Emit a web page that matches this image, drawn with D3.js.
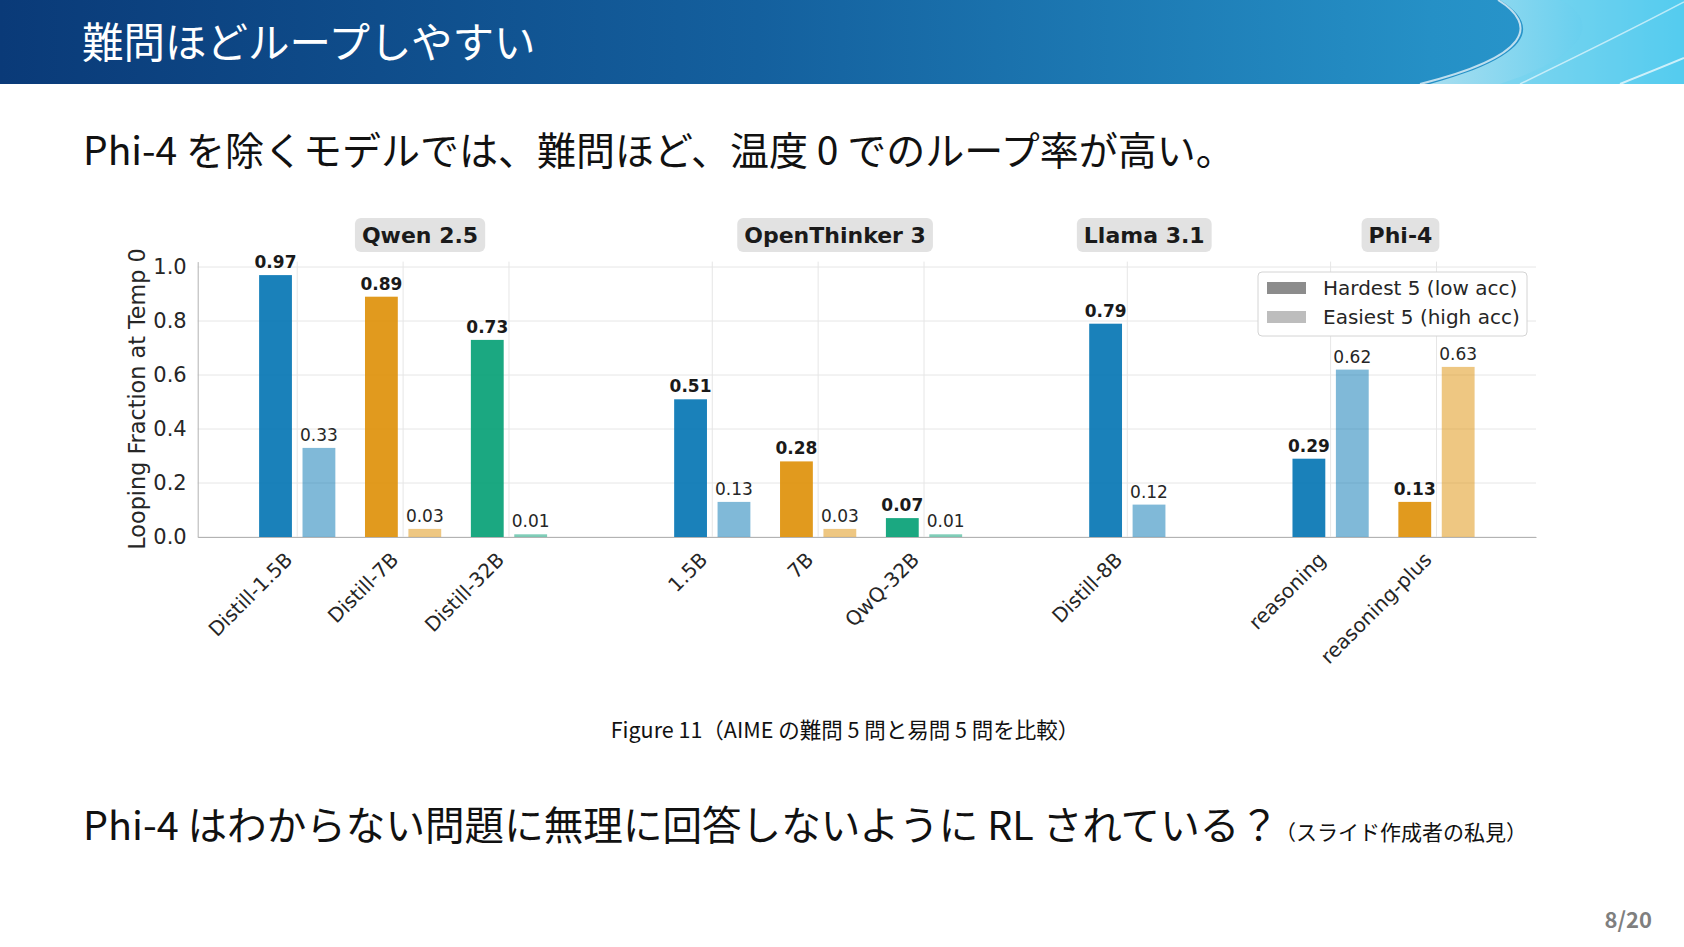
<!DOCTYPE html>
<html>
<head>
<meta charset="utf-8">
<script src="https://cdn.jsdelivr.net/npm/d3@7"></script>
<style>
  html, body { margin: 0; padding: 0; background: #fff; }
  svg { display: block; }
</style>
</head>
<body>
<svg id="slide" width="1684" height="947"></svg>
<script>
// chart data
const groups = ['Qwen 2.5', 'OpenThinker 3', 'Llama 3.1', 'Phi-4']
const models = ['Distill-1.5B', 'Distill-7B', 'Distill-32B', '1.5B', '7B', 'QwQ-32B', 'Distill-8B', 'reasoning', 'reasoning-plus']
const modelGroup = [0, 0, 0, 1, 1, 1, 2, 3, 3]
const modelColor = [0, 1, 2, 0, 1, 2, 0, 0, 1]
const hardest = [0.97, 0.89, 0.73, 0.51, 0.28, 0.07, 0.79, 0.29, 0.13]
const easiest = [0.33, 0.03, 0.01, 0.13, 0.03, 0.01, 0.12, 0.62, 0.63]
const yTicks = [0, 0.2, 0.4, 0.6, 0.8, 1.0]
const legendLabels = ['Hardest 5 (low acc)', 'Easiest 5 (high acc)']

const palette = ['#0173b2', '#de8f05', '#029e73']
const groupGap = 0.92

const svg = d3.select('#slide')
const chartFont = "'DejaVu Sans', sans-serif"
const jpFont = "'Noto Sans CJK JP', 'Noto Sans', sans-serif"

// ---- header band ----
const defs = svg.append('defs')
const hg = defs.append('linearGradient').attr('id', 'hdr').attr('x1', 0).attr('x2', 1).attr('y1', 0).attr('y2', 0)
hg.append('stop').attr('offset', '0%').attr('stop-color', '#0a3a78')
hg.append('stop').attr('offset', '45%').attr('stop-color', '#14609e')
hg.append('stop').attr('offset', '85%').attr('stop-color', '#2590c6')
hg.append('stop').attr('offset', '100%').attr('stop-color', '#2b9bd0')
const lg = defs.append('linearGradient').attr('id', 'swoosh').attr('x1', 0).attr('x2', 1).attr('y1', 0).attr('y2', 0)
lg.append('stop').attr('offset', '0%').attr('stop-color', '#a8def0')
lg.append('stop').attr('offset', '100%').attr('stop-color', '#3ec6ee')

svg.append('rect').attr('x', 0).attr('y', 0).attr('width', 1684).attr('height', 84).attr('fill', 'url(#hdr)')
svg.append('path')
  .attr('d', 'M1500,0 C1540,25 1535,55 1430,84 L1684,84 L1684,0 Z')
  .attr('fill', 'url(#swoosh)')
svg.append('path')
  .attr('d', 'M1560,0 C1600,20 1590,55 1500,84 L1684,84 L1684,0 Z')
  .attr('fill', '#6fd3f0').attr('opacity', 0.45)
svg.append('path')
  .attr('d', 'M1498,0 C1538,25 1532,56 1420,84')
  .attr('fill', 'none').attr('stroke', '#ffffff').attr('stroke-width', 2).attr('opacity', 0.7)
svg.append('path')
  .attr('d', 'M1684,2 C1640,25 1580,55 1520,84')
  .attr('fill', 'none').attr('stroke', '#ffffff').attr('stroke-width', 1.5).attr('opacity', 0.6)
svg.append('path')
  .attr('d', 'M1684,58 C1660,68 1640,76 1620,84')
  .attr('fill', 'none').attr('stroke', '#ffffff').attr('stroke-width', 2).attr('opacity', 0.7)

svg.append('text')
  .attr('x', 82).attr('y', 58)
  .attr('font-family', jpFont).attr('font-size', 41.5).attr('fill', '#ffffff')
  .text('難問ほどループしやすい')

svg.append('text')
  .attr('x', 83).attr('y', 165)
  .attr('font-family', jpFont).attr('font-size', 39).attr('fill', '#111')
  .text('Phi-4 を除くモデルでは、難問ほど、温度 0 でのループ率が高い。')

// ---- chart ----
const pos = models.map((m, i) => i + modelGroup[i] * groupGap)
const x = d3.scaleLinear().domain([-0.94, 11.70]).range([197.7, 1536])
const y = d3.scaleLinear().domain([0, 1.02]).range([537, 261.6])
const barW = x(0.31) - x(0)
const off = 0.205

const g = svg.append('g')

// grid
g.append('g').selectAll('line').data(yTicks).enter().append('line')
  .attr('x1', x.range()[0]).attr('x2', x.range()[1])
  .attr('y1', d => y(d)).attr('y2', d => y(d))
  .attr('stroke', '#e6e6e6').attr('stroke-width', 1)
g.append('g').selectAll('line').data(pos).enter().append('line')
  .attr('x1', d => x(d)).attr('x2', d => x(d))
  .attr('y1', y.range()[0]).attr('y2', y.range()[1])
  .attr('stroke', '#e6e6e6').attr('stroke-width', 1)

// bars
const rows = models.map((m, i) => ({ m, i, p: pos[i], c: palette[modelColor[i]], hard: hardest[i], easy: easiest[i] }))

g.append('g').selectAll('rect').data(rows).enter().append('rect')
  .attr('x', d => x(d.p - off) - barW / 2)
  .attr('y', d => y(d.hard))
  .attr('width', barW)
  .attr('height', d => y(0) - y(d.hard))
  .attr('fill', d => d.c).attr('fill-opacity', 0.9)

g.append('g').selectAll('rect').data(rows).enter().append('rect')
  .attr('x', d => x(d.p + off) - barW / 2)
  .attr('y', d => y(d.easy))
  .attr('width', barW)
  .attr('height', d => y(0) - y(d.easy))
  .attr('fill', d => d.c).attr('fill-opacity', 0.5)

// value labels
g.append('g').selectAll('text').data(rows).enter().append('text')
  .attr('x', d => x(d.p - off)).attr('y', d => y(d.hard) - 7)
  .attr('text-anchor', 'middle')
  .attr('font-family', chartFont).attr('font-size', 17).attr('font-weight', 'bold').attr('fill', '#1a1a1a')
  .text(d => d.hard.toFixed(2))
g.append('g').selectAll('text').data(rows).enter().append('text')
  .attr('x', d => x(d.p + off)).attr('y', d => y(d.easy) - 7)
  .attr('text-anchor', 'middle')
  .attr('font-family', chartFont).attr('font-size', 17).attr('fill', '#262626')
  .text(d => d.easy.toFixed(2))

// axes
const yAxis = g.append('g').attr('transform', `translate(${x.range()[0]},0)`)
  .call(d3.axisLeft(y).tickValues(yTicks).tickFormat(d3.format('.1f')).tickSize(0).tickPadding(11))
yAxis.select('.domain').attr('stroke', '#b3b3b3')
yAxis.selectAll('text').attr('font-family', chartFont).attr('font-size', 21).attr('fill', '#262626')

const xAxis = g.append('g').attr('transform', `translate(0,${y(0)})`)
  .call(d3.axisBottom(x).tickValues(pos).tickFormat((d, i) => models[i]).tickSize(0))
xAxis.select('.domain').attr('stroke', '#b3b3b3')
xAxis.selectAll('text')
  .attr('font-family', chartFont).attr('font-size', 20).attr('fill', '#262626')
  .attr('text-anchor', 'end')
  .attr('dy', null)
  .attr('y', 0)
  .attr('transform', d => `translate(-4,24) rotate(-45)`)

svg.append('text')
  .attr('transform', 'translate(145,399) rotate(-90)')
  .attr('text-anchor', 'middle')
  .attr('font-family', chartFont).attr('font-size', 22.3).attr('fill', '#262626')
  .text('Looping Fraction at Temp 0')

// group titles
groups.forEach((name, gi) => {
  const ps = pos.filter((p, i) => modelGroup[i] === gi)
  const cx = x(d3.mean(ps) + 0.16)
  const lab = svg.append('g')
  const t = lab.append('text')
    .attr('x', cx).attr('y', 243)
    .attr('text-anchor', 'middle')
    .attr('font-family', chartFont).attr('font-size', 22).attr('font-weight', 'bold').attr('fill', '#1a1a1a')
    .text(name)
  const bb = t.node().getBBox()
  lab.insert('rect', 'text')
    .attr('x', bb.x - 7).attr('y', 218)
    .attr('width', bb.width + 14).attr('height', 34)
    .attr('rx', 6).attr('fill', '#e2e2e2')
})

// legend
const leg = svg.append('g')
leg.append('rect').attr('x', 1258).attr('y', 272).attr('width', 269).attr('height', 64)
  .attr('rx', 4).attr('fill', '#fff').attr('stroke', '#d4d4d4')
const legColors = ['#8c8c8c', '#bdbdbd']
legendLabels.forEach((t, i) => {
  leg.append('rect').attr('x', 1267).attr('y', 282 + i * 29).attr('width', 39).attr('height', 12).attr('fill', legColors[i])
  leg.append('text').attr('x', 1323).attr('y', 295 + i * 28.5)
    .attr('font-family', chartFont).attr('font-size', 20).attr('fill', '#262626')
    .text(t)
})

// ---- caption and notes ----
svg.append('text')
  .attr('x', 845).attr('y', 738).attr('text-anchor', 'middle')
  .attr('font-family', jpFont).attr('font-size', 21.5).attr('fill', '#111')
  .text('Figure 11（AIME の難問 5 問と易問 5 問を比較）')

const note = svg.append('text')
  .attr('x', 83).attr('y', 840)
  .attr('font-family', jpFont).attr('fill', '#111')
note.append('tspan').attr('font-size', 39.6).text('Phi-4 はわからない問題に無理に回答しないように RL されている？')
note.append('tspan').attr('font-size', 21).attr('dx', -4).text('（スライド作成者の私見）')

svg.append('text')
  .attr('x', 1652).attr('y', 928).attr('text-anchor', 'end')
  .attr('font-family', jpFont).attr('font-size', 22).attr('font-weight', 'bold').attr('fill', '#7f7f7f')
  .text('8/20')
</script>
</body>
</html>
